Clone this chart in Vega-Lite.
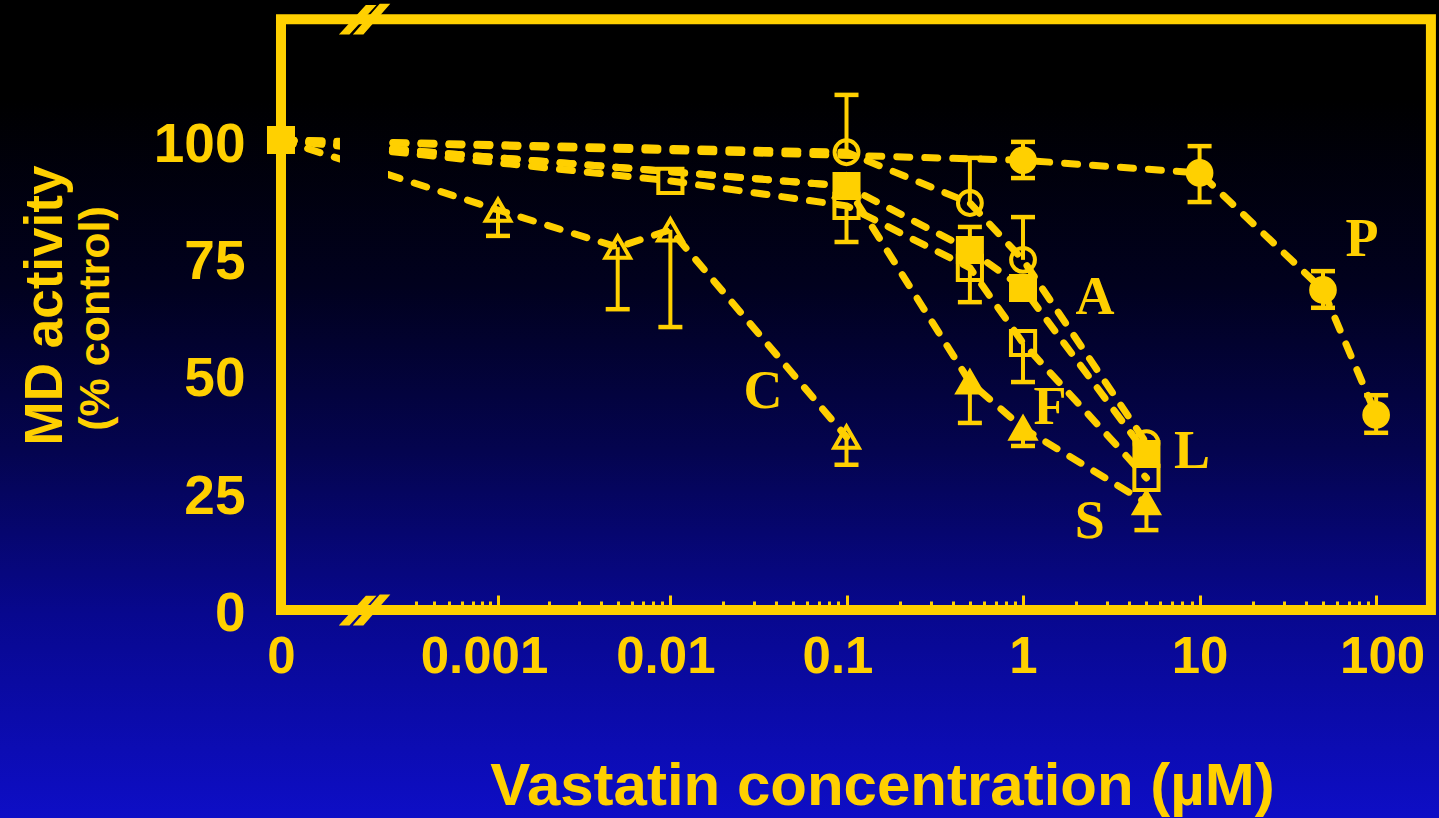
{
  "$schema": "https://vega.github.io/schema/vega-lite/v6.json",
  "width": 1439,
  "height": 818,
  "autosize": {"type": "none"},
  "padding": 0,
  "background": "#000000",
  "config": {
    "view": {"stroke": null},
    "axis": {
      "zindex": 5,
      "grid": false,
      "domain": false,
      "labelColor": "#FFD000",
      "titleColor": "#FFD000",
      "tickColor": "#FFD000",
      "labelFont": "Liberation Sans",
      "titleFont": "Liberation Sans",
      "labelFontWeight": "bold",
      "titleFontWeight": "bold"
    }
  },
  "datasets": {
    "activity": [
      {"series": "C", "conc": 0, "pct": 100},
      {"series": "C", "conc": 0.001, "pct": 85.1, "lo": 79.6},
      {"series": "C", "conc": 0.005, "pct": 77.2, "lo": 64.0},
      {"series": "C", "conc": 0.01, "pct": 80.9, "lo": 60.2},
      {"series": "C", "conc": 0.1, "pct": 36.8, "lo": 30.9},
      {"series": "S", "conc": 0, "pct": 100},
      {"series": "S", "conc": 0.1, "pct": 90.2},
      {"series": "S", "conc": 0.5, "pct": 48.5, "lo": 39.8},
      {"series": "S", "conc": 1, "pct": 38.7, "lo": 34.9},
      {"series": "S", "conc": 5, "pct": 22.8, "lo": 17.0},
      {"series": "F", "conc": 0, "pct": 100},
      {"series": "F", "conc": 0.01, "pct": 91.3},
      {"series": "F", "conc": 0.1, "pct": 86.0, "lo": 78.3},
      {"series": "F", "conc": 0.5, "pct": 72.8, "lo": 65.5},
      {"series": "F", "conc": 1, "pct": 56.8, "lo": 48.5},
      {"series": "F", "conc": 5, "pct": 28.1},
      {"series": "L", "conc": 0, "pct": 100},
      {"series": "L", "conc": 0.1, "pct": 90.2},
      {"series": "L", "conc": 0.5, "pct": 76.6, "hi": 81.5},
      {"series": "L", "conc": 1, "pct": 68.5},
      {"series": "L", "conc": 5, "pct": 33.2},
      {"series": "A", "conc": 0, "pct": 100},
      {"series": "A", "conc": 0.1, "pct": 97.4, "hi": 109.6},
      {"series": "A", "conc": 0.5, "pct": 86.6, "hi": 96.2},
      {"series": "A", "conc": 1, "pct": 74.5, "hi": 83.6},
      {"series": "A", "conc": 5, "pct": 35.5},
      {"series": "P", "conc": 0, "pct": 100},
      {"series": "P", "conc": 1, "pct": 95.7, "lo": 91.9, "hi": 99.6},
      {"series": "P", "conc": 10, "pct": 93.0, "lo": 86.8, "hi": 98.7},
      {"series": "P", "conc": 50, "pct": 68.1, "lo": 64.3, "hi": 72.1},
      {"series": "P", "conc": 100, "pct": 41.5, "lo": 37.7, "hi": 45.7}
    ],
    "labels": [
      {"name": "C", "conc": 0.0336, "pct": 46.4},
      {"name": "A", "conc": 2.56, "pct": 66.4},
      {"name": "F", "conc": 1.42, "pct": 43.0},
      {"name": "L", "conc": 9.07, "pct": 33.6},
      {"name": "S", "conc": 2.39, "pct": 18.7},
      {"name": "P", "conc": 83.2, "pct": 78.7}
    ]
  },
  "resolve": {"axis": {"x": "independent", "y": "independent"}},
  "layer": [
    {
      "data": {"values": [{}]},
      "mark": {
        "type": "rect",
        "fill": {
          "gradient": "linear", "x1": 0, "y1": 0, "x2": 0, "y2": 1,
          "stops": [
            {"offset": 0, "color": "#000000"},
            {"offset": 0.12, "color": "#000000"},
            {"offset": 0.35, "color": "#01011E"},
            {"offset": 0.55, "color": "#04044F"},
            {"offset": 0.75, "color": "#08088E"},
            {"offset": 1, "color": "#0E0EC6"}
          ]
        }
      },
      "encoding": {
        "x": {"value": 0}, "x2": {"value": "width"},
        "y": {"value": 0}, "y2": {"value": "height"}
      }
    },
    {
      "data": {"name": "activity"},
      "mark": {"type": "line", "color": "#FFD000", "strokeWidth": 7, "strokeDash": [13, 15], "strokeCap": "round"},
      "encoding": {
        "x": {"field": "conc", "type": "quantitative", "axis": null,
              "scale": {"type": "symlog", "constant": 0.0000627, "domain": [-0.002385, 227.0], "nice": false, "zero": false}},
        "y": {"field": "pct", "type": "quantitative", "axis": null,
              "scale": {"type": "linear", "domain": [-44.26, 129.79], "nice": false, "zero": false}},
        "detail": {"field": "series", "type": "nominal"},
        "order": {"field": "conc", "type": "quantitative"}
      }
    },
    {
      "data": {"values": [{}]},
      "mark": {
        "type": "rect",
        "fill": {
          "gradient": "linear", "x1": 0, "y1": 0, "x2": 0, "y2": 1,
          "stops": [
            {"offset": 0, "color": "#000000"},
            {"offset": 0.12, "color": "#000000"},
            {"offset": 0.35, "color": "#01011E"},
            {"offset": 0.55, "color": "#04044F"},
            {"offset": 0.75, "color": "#08088E"},
            {"offset": 1, "color": "#0E0EC6"}
          ]
        }
      },
      "encoding": {
        "x": {"datum": 0.0000726, "type": "quantitative",
              "scale": {"type": "symlog", "constant": 0.0000627, "domain": [-0.002385, 227.0], "nice": false, "zero": false},
              "axis": {
                "orient": "bottom", "offset": -208, "labels": false, "title": null, "zindex": 5,
                "values": [0.0003, 0.0004, 0.0005, 0.0006, 0.0007, 0.0008, 0.0009,
                           0.002, 0.003, 0.004, 0.005, 0.006, 0.007, 0.008, 0.009,
                           0.02, 0.03, 0.04, 0.05, 0.06, 0.07, 0.08, 0.09,
                           0.2, 0.3, 0.4, 0.5, 0.6, 0.7, 0.8, 0.9,
                           2, 3, 4, 5, 6, 7, 8, 9,
                           20, 30, 40, 50, 60, 70, 80, 90],
                "ticks": true, "tickWidth": 3, "tickSize": -9
              }},
        "x2": {"datum": 0.0001904},
        "y": {"value": 0}, "y2": {"value": "height"}
      }
    },
    {
      "data": {"values": [{}]},
      "mark": {"type": "rect", "filled": false, "stroke": "#FFD000", "strokeWidth": 10, "strokeJoin": "miter"},
      "encoding": {
        "x": {"datum": 0, "type": "quantitative", "axis": null,
              "scale": {"type": "symlog", "constant": 0.0000627, "domain": [-0.002385, 227.0], "nice": false, "zero": false}},
        "x2": {"datum": 204.3},
        "y": {"datum": 0, "type": "quantitative",
              "scale": {"type": "linear", "domain": [-44.26, 129.79], "nice": false, "zero": false},
              "axis": {"orient": "left", "offset": -281, "labels": false, "ticks": false, "zindex": 5,
                       "title": "(% control)", "titleFontSize": 43, "titleX": -186, "titleY": 318,
                       "titleAlign": "center", "titleBaseline": "middle"}},
        "y2": {"datum": 125.7}
      }
    },
    {
      "data": {"values": [{}]},
      "mark": {"type": "point", "filled": true, "fill": "#FFD000", "stroke": "#FFD000", "strokeWidth": 2, "opacity": 1, "size": 2304,
               "shape": "M-1,0.6 L0.05,-0.55 L0.38,-0.55 L-0.67,0.6 Z M-0.42,0.6 L0.63,-0.6 L0.96,-0.6 L-0.09,0.6 Z"},
      "encoding": {
        "x": {"datum": 0.000125, "type": "quantitative",
              "scale": {"type": "symlog", "constant": 0.0000627, "domain": [-0.002385, 227.0], "nice": false, "zero": false},
              "axis": {
                "orient": "bottom", "offset": -208, "labels": false, "title": null, "zindex": 5,
                "values": [0.001, 0.01, 0.1, 1, 10, 100],
                "ticks": true, "tickWidth": 3, "tickSize": -15
              }},
        "y": {"datum": 0, "type": "quantitative", "axis": null,
              "scale": {"type": "linear", "domain": [-44.26, 129.79], "nice": false, "zero": false}}
      }
    },
    {
      "data": {"values": [{}]},
      "mark": {"type": "point", "filled": true, "fill": "#FFD000", "stroke": "#FFD000", "strokeWidth": 2, "opacity": 1, "size": 2304,
               "shape": "M-1,0.6 L0.05,-0.55 L0.38,-0.55 L-0.67,0.6 Z M-0.42,0.6 L0.63,-0.6 L0.96,-0.6 L-0.09,0.6 Z"},
      "encoding": {
        "x": {"datum": 0.000125, "type": "quantitative", "axis": null,
              "scale": {"type": "symlog", "constant": 0.0000627, "domain": [-0.002385, 227.0], "nice": false, "zero": false}},
        "y": {"datum": 125.7, "type": "quantitative", "axis": null,
              "scale": {"type": "linear", "domain": [-44.26, 129.79], "nice": false, "zero": false}}
      }
    },
    {
      "data": {"name": "activity"},
      "transform": [
        {"fold": ["lo", "hi"], "as": ["arm", "end"]},
        {"filter": "isValid(datum.end)"}
      ],
      "mark": {"type": "rule", "color": "#FFD000", "strokeWidth": 4},
      "encoding": {
        "x": {"field": "conc", "type": "quantitative", "axis": null,
              "scale": {"type": "symlog", "constant": 0.0000627, "domain": [-0.002385, 227.0], "nice": false, "zero": false}},
        "y": {"field": "pct", "type": "quantitative", "axis": null,
              "scale": {"type": "linear", "domain": [-44.26, 129.79], "nice": false, "zero": false}},
        "y2": {"field": "end"}
      }
    },
    {
      "data": {"name": "activity"},
      "transform": [
        {"fold": ["lo", "hi"], "as": ["arm", "end"]},
        {"filter": "isValid(datum.end)"}
      ],
      "mark": {"type": "point", "shape": "stroke", "filled": false, "stroke": "#FFD000", "strokeWidth": 4.5, "size": 576, "opacity": 1},
      "encoding": {
        "x": {"field": "conc", "type": "quantitative", "axis": null,
              "scale": {"type": "symlog", "constant": 0.0000627, "domain": [-0.002385, 227.0], "nice": false, "zero": false}},
        "y": {"field": "end", "type": "quantitative", "axis": null,
              "scale": {"type": "linear", "domain": [-44.26, 129.79], "nice": false, "zero": false}}
      }
    },
    {
      "data": {"name": "activity"},
      "transform": [{"filter": "datum.conc > 0 || datum.series == 'L'"}],
      "mark": {"type": "point", "filled": true, "stroke": "#FFD000", "strokeWidth": 4, "opacity": 1},
      "encoding": {
        "x": {"field": "conc", "type": "quantitative",
              "scale": {"type": "symlog", "constant": 0.0000627, "domain": [-0.002385, 227.0], "nice": false, "zero": false},
              "axis": {
                "orient": "bottom", "offset": -208, "zindex": 5,
                "values": [0, 0.001, 0.01, 0.1, 1, 10, 100],
                "labelExpr": "datum.value == 0 ? '0' : format(datum.value, '~r')",
                "ticks": false,
                "labelFontSize": 51, "labelPadding": 22, "labelBaseline": "top",
                "labelOverlap": false, "labelFlush": false, "labelBound": false,
                "labelOffset": {"condition": [
                  {"test": "datum.value == 0.001", "value": -14},
                  {"test": "datum.value == 0.01", "value": -5},
                  {"test": "datum.value == 0.1", "value": -9},
                  {"test": "datum.value == 100", "value": 6}
                ], "value": 0},
                "title": "Vastatin concentration (µM)", "titleFontSize": 60,
                "titleX": 882, "titleY": 194, "titleAlign": "center", "titleBaseline": "alphabetic"
              }},
        "y": {"field": "pct", "type": "quantitative",
              "scale": {"type": "linear", "domain": [-44.26, 129.79], "nice": false, "zero": false},
              "axis": {
                "orient": "left", "offset": -281, "zindex": 5,
                "values": [0, 25, 50, 75, 100], "ticks": false,
                "labelFontSize": 55, "labelPadding": 36, "labelOffset": 4, "labelOverlap": false,
                "title": "MD activity", "titleFontSize": 53, "titleX": -236, "titleY": 305,
                "titleAlign": "center", "titleBaseline": "middle"
              }},
        "shape": {"field": "series", "type": "nominal", "legend": null,
                  "scale": {"domain": ["C", "S", "F", "L", "A", "P"],
                            "range": ["triangle-up", "triangle-up", "square", "square", "circle", "circle"]}},
        "fill": {"field": "series", "type": "nominal", "legend": null,
                 "scale": {"domain": ["C", "S", "F", "L", "A", "P"],
                           "range": ["transparent", "#FFD000", "transparent", "#FFD000", "transparent", "#FFD000"]}},
        "size": {"field": "series", "type": "nominal", "legend": null,
                 "scale": {"domain": ["C", "S", "F", "L", "A", "P"],
                           "range": [600, 560, 530, 620, 480, 700]}}
      }
    },
    {
      "data": {"name": "labels"},
      "mark": {"type": "text", "font": "Liberation Serif", "fontWeight": "bold", "fontSize": 54,
               "color": "#FFD000", "align": "center", "baseline": "middle"},
      "encoding": {
        "x": {"field": "conc", "type": "quantitative", "axis": null,
              "scale": {"type": "symlog", "constant": 0.0000627, "domain": [-0.002385, 227.0], "nice": false, "zero": false}},
        "y": {"field": "pct", "type": "quantitative", "axis": null,
              "scale": {"type": "linear", "domain": [-44.26, 129.79], "nice": false, "zero": false}},
        "text": {"field": "name", "type": "nominal"}
      }
    }
  ]
}
